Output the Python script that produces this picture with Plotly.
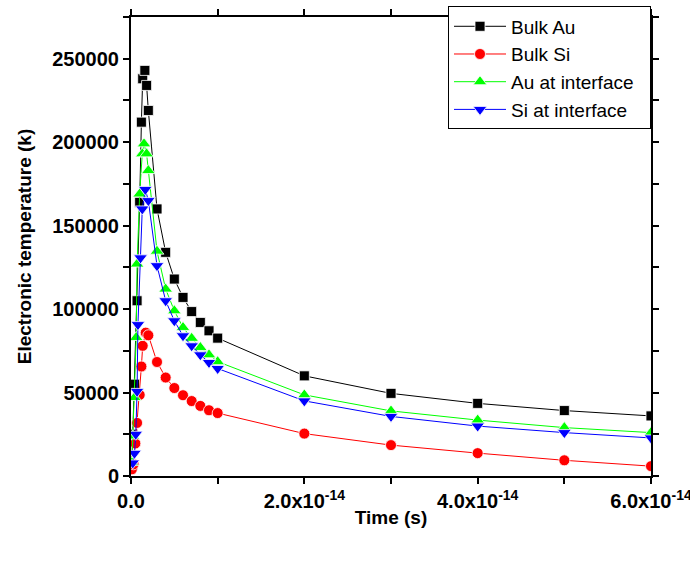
import plotly.graph_objects as go

# time in units of 1e-15 s
t_au = [0.1, 0.2, 0.4, 0.7, 1.0, 1.2, 1.35, 1.6, 1.8, 2.0, 3, 4, 5, 6, 7, 8, 9, 10, 20, 30, 40, 50, 60]
bulk_au = [7000, 25000, 55000, 105000, 164000, 212000, 238000, 243000, 234000, 219000,
           160000, 134000, 118000, 107000, 98500, 92000, 87000, 82600,
           60000, 49500, 43500, 39200, 36000]

t_si = [0.1, 0.3, 0.5, 0.7, 1.0, 1.2, 1.35, 1.7, 2.0, 3, 4, 5, 6, 7, 8, 9, 10, 20, 30, 40, 50, 60]
bulk_si = [4000, 7000, 19500, 31800, 48600, 65600, 78000, 85900, 84300,
           68300, 59000, 52700, 48400, 44900, 42000, 39400, 37700,
           25400, 18500, 13700, 9400, 5900]

t_au_if = [0.1, 0.2, 0.4, 0.6, 0.7, 1.0, 1.3, 1.5, 1.8, 2.0, 3, 4, 5, 6, 7, 8, 9, 10, 20, 30, 40, 50, 60]
au_interface = [8000, 24000, 47000, 83000, 127000, 169000, 193000, 199000, 193000, 183000,
                134700, 112000, 99000, 89000, 82500, 77000, 72600, 68500,
                48600, 39000, 33500, 29000, 26000]

t_si_if = [0.2, 0.4, 0.55, 0.7, 0.8, 1.1, 1.3, 1.65, 2.0, 3, 4, 5, 6, 7, 8, 9, 10, 20, 30, 40, 50, 60]
si_interface = [7800, 13600, 25000, 50700, 90700, 130700, 160000, 171700, 165000,
                126000, 105000, 93000, 84000, 78000, 72600, 68000, 64400,
                45000, 35700, 29900, 26000, 22800]

x_tickvals = [0, 2e-14, 4e-14, 6e-14]
x_ticktext = ["0.0", "2.0x10<sup>-14</sup>", "4.0x10<sup>-14</sup>", "6.0x10<sup>-14</sup>"]
y_tickvals = [0, 50000, 100000, 150000, 200000, 250000]
y_ticktext = ["0", "50000", "100000", "150000", "200000", "250000"]

series = [
    ("Bulk Au", t_au, bulk_au, "#000000", "square", 10),
    ("Bulk Si", t_si, bulk_si, "#FF0000", "circle", 11),
    ("Au at interface\u00a0\u00a0", t_au_if, au_interface, "#00FF00", "triangle-up", 12),
    ("Si at interface", t_si_if, si_interface, "#0000FF", "triangle-down", 12),
]

fig = go.Figure()
for name, t, v, col, sym, sz in series:
    fig.add_trace(go.Scatter(
        x=[tt * 1e-15 for tt in t], y=v, name=name, mode="lines+markers",
        line=dict(color=col, width=1),
        marker=dict(symbol=sym, size=sz, color=col, line=dict(color="white", width=0.8)),
    ))

font_fam = "Liberation Sans, Arial"
axis_common = dict(
    showline=True, linecolor="black", linewidth=2, mirror="allticks",
    ticks="outside", ticklen=6, tickwidth=1.5, tickcolor="black",
    showgrid=False, zeroline=False, tickmode="array", automargin=False,
    tickfont=dict(family=font_fam, size=20, color="black", weight="bold"),
)

fig.update_layout(
    width=690, height=561,
    margin=dict(l=131, r=39, t=6, b=85),
    paper_bgcolor="white", plot_bgcolor="white",
    xaxis=dict(range=[0, 6e-14], tickvals=x_tickvals, ticktext=x_ticktext,
               ticklabeloverflow="allow",
               minor=dict(dtick=1e-14, tick0=0, ticks="outside", ticklen=6, tickwidth=1.5,
                          tickcolor="black", showgrid=False),
               title=dict(text="Time (s)", standoff=0,
                          font=dict(family=font_fam, size=19, color="black", weight="bold")),
               **axis_common),
    yaxis=dict(range=[0, 275000], tickvals=y_tickvals, ticktext=y_ticktext,
               minor=dict(dtick=25000, tick0=0, ticks="outside", ticklen=6, tickwidth=1.5,
                          tickcolor="black", showgrid=False),
               title=dict(text="Electronic temperature (k)", standoff=16,
                          font=dict(family=font_fam, size=19, color="black", weight="bold")),
               **axis_common),
    legend=dict(x=1, y=1.023, xanchor="right", yanchor="top",
                bgcolor="white", bordercolor="black", borderwidth=1,
                font=dict(family=font_fam, size=19, color="black"),
                itemwidth=52, tracegroupgap=0),
    showlegend=True,
)

fig.write_html("out.html")
